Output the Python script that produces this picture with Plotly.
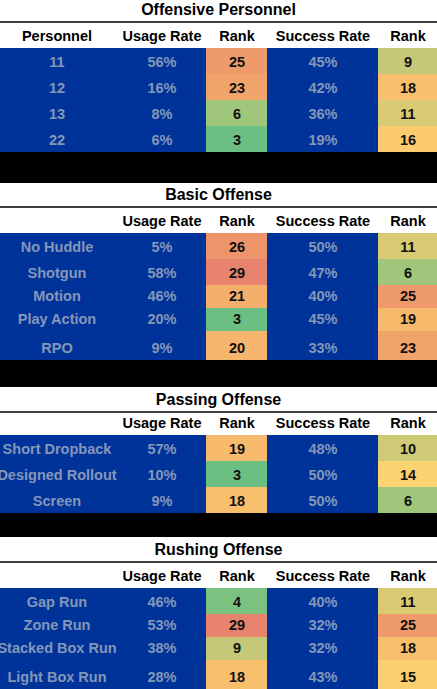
import plotly.graph_objects as go
import numpy as np

# ---------------- data ----------------
titles = ["Offensive Personnel", "Basic Offense", "Passing Offense", "Rushing Offense"]
first_headers = ["Personnel", "", "", ""]
col_headers = ["Usage Rate", "Rank", "Success Rate", "Rank"]

labels = [
    ["11", "12", "13", "22"],
    ["No Huddle", "Shotgun", "Motion", "Play Action", "RPO"],
    ["Short Dropback", "Designed Rollout", "Screen"],
    ["Gap Run", "Zone Run", "Stacked Box Run", "Light Box Run"],
]
usage_rate = [[56, 16, 8, 6], [5, 58, 46, 20, 9], [57, 10, 9], [46, 53, 38, 28]]
usage_rank = [[25, 23, 6, 3], [26, 29, 21, 3, 20], [19, 3, 18], [4, 29, 9, 18]]
success_rate = [[45, 42, 36, 19], [50, 47, 40, 45, 33], [48, 50, 50], [40, 32, 32, 43]]
success_rank = [[9, 18, 11, 16], [11, 6, 25, 19, 23], [10, 14, 6], [11, 25, 18, 15]]

# ---------------- layout / style constants ----------------
W, H = 437, 689
col_edges = [0, 114, 206, 267, 378, 437]
col_centers = [57, 162, 237, 323, 408]
section_tops = [0, 183, 387, 537]
title_h = [22, 24, 25, 25]
header_h = [26, 26, 23, 26]
row_heights = [[26, 26, 26, 26], [26, 26, 23, 23, 29], [26, 26, 26], [26, 23, 23, 29]]
text_offset = 11

BLUE = "#00339a"
GRAY = "#8497b8"
DARK = "#111111"
FONT = "Liberation Sans"

rank_stops = [(3, "#6cbf82"), (6, "#a0c67c"), (9, "#c5c879"), (11, "#d8cb74"),
              (14, "#fbd370"), (16, "#fbcb6e"), (18, "#f8bf6d"), (21, "#f4b06b"),
              (23, "#f1a46a"), (25, "#ee9a6a"), (29, "#e8836d")]
zmin, zmax = rank_stops[0][0], rank_stops[-1][0]
rank_scale = [[(r - zmin) / (zmax - zmin), c] for r, c in rank_stops]

fig = go.Figure()
shapes = []

for s in range(len(titles)):
    top = section_tops[s]
    line_y = top + title_h[s]
    header_bottom = line_y + header_h[s]
    edges = [header_bottom]
    for h in row_heights[s]:
        edges.append(edges[-1] + h)
    n = len(labels[s])

    # blue background cells
    fig.add_trace(go.Heatmap(
        x=col_edges, y=edges, z=np.zeros((n, 5)),
        colorscale=[[0, BLUE], [1, BLUE]], showscale=False, hoverinfo="skip",
        xgap=0, ygap=0))
    # rank cells
    z = np.full((n, 5), np.nan)
    z[:, 2] = usage_rank[s]
    z[:, 4] = success_rank[s]
    fig.add_trace(go.Heatmap(
        x=col_edges, y=edges, z=z, zmin=zmin, zmax=zmax,
        colorscale=rank_scale, showscale=False, hoverinfo="skip"))

    # title
    fig.add_trace(go.Scatter(
        x=[W / 2], y=[line_y - text_offset], mode="text", text=[titles[s]],
        textfont=dict(family=FONT, size=16, color="#000000", weight="bold"),
        hoverinfo="skip", showlegend=False, cliponaxis=False))
    # headers
    hdr = [first_headers[s]] + col_headers
    fig.add_trace(go.Scatter(
        x=col_centers, y=[header_bottom - text_offset] * 5, mode="text", text=hdr,
        textfont=dict(family=FONT, size=14.5, color="#000000", weight="bold"),
        hoverinfo="skip", showlegend=False, cliponaxis=False))
    # body text
    ys = [e - text_offset for e in edges[1:]]
    cols = [
        (labels[s], GRAY),
        ([f"{v}%" for v in usage_rate[s]], GRAY),
        ([str(v) for v in usage_rank[s]], DARK),
        ([f"{v}%" for v in success_rate[s]], GRAY),
        ([str(v) for v in success_rank[s]], DARK),
    ]
    for ci, (txt, colr) in enumerate(cols):
        fig.add_trace(go.Scatter(
            x=[col_centers[ci]] * n, y=ys, mode="text", text=txt,
            textfont=dict(family=FONT, size=14.5, color=colr, weight="bold"),
            hoverinfo="skip", showlegend=False, cliponaxis=False))

    # line under title
    shapes.append(dict(type="line", xref="x", yref="y", x0=0, x1=W, y0=line_y, y1=line_y,
                       line=dict(color="#000000", width=1.5)))
    # black separator band
    if s + 1 < len(titles):
        shapes.append(dict(type="rect", xref="x", yref="y", x0=0, x1=W,
                           y0=edges[-1], y1=section_tops[s + 1],
                           fillcolor="#000000", line=dict(width=0), layer="above"))

fig.update_layout(
    width=W, height=H, margin=dict(l=0, r=0, t=0, b=0),
    paper_bgcolor="white", plot_bgcolor="white", showlegend=False,
    xaxis=dict(range=[0, W], visible=False, fixedrange=True),
    yaxis=dict(range=[H, 0], visible=False, fixedrange=True),
    shapes=shapes,
)
fig.write_html("out.html", config={"displayModeBar": False})

# remove the browser's default page margin so the figure fills the window exactly
with open("out.html", "r", encoding="utf-8") as f:
    html = f.read()
html = html.replace("<head>", "<head><style>html,body{margin:0;padding:0;overflow:hidden;}</style>", 1)
with open("out.html", "w", encoding="utf-8") as f:
    f.write(html)
